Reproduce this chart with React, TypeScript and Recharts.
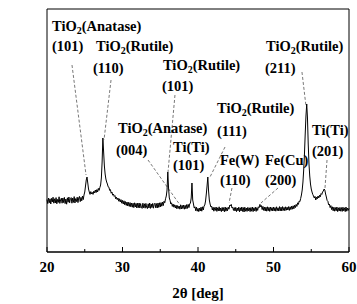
import {
  LineChart, Line, XAxis, YAxis, ReferenceLine, ReferenceDot, ReferenceArea, Label
} from 'recharts';

const FONT = '"Liberation Serif", "Times New Roman", serif';

// scan grid of the diffractometer (deg)
const scanStart = 20;
const scanStep = 0.1;

// intensity, one row per degree (x.0 ... x.9)
const counts = [
  2.62, 2.42, 2.70, 2.46, 2.66, 2.40, 2.68, 2.50, 2.74, 2.44, // 20
  2.66, 2.45, 2.72, 2.41, 2.63, 2.48, 2.76, 2.43, 2.60, 2.69, // 21
  2.44, 2.70, 2.47, 2.73, 2.42, 2.65, 2.39, 2.71, 2.49, 2.75, // 22
  2.46, 2.68, 2.72, 2.44, 2.70, 2.48, 2.77, 2.45, 2.67, 2.52, // 23
  2.74, 2.47, 2.70, 2.78, 2.52, 2.73, 2.56, 2.80, 2.62, 2.85, // 24
  3.00, 3.30, 3.60, 3.75, 3.45, 3.15, 3.00, 2.88, 3.02, 2.90, // 25
  2.98, 2.88, 3.04, 2.95, 3.10, 2.97, 3.12, 3.00, 3.18, 3.08, // 26
  3.22, 3.35, 3.70, 4.50, 5.70, 5.00, 4.30, 3.90, 3.65, 3.50, // 27
  3.40, 3.26, 3.24, 3.08, 3.12, 2.94, 3.00, 2.84, 2.90, 2.78, // 28
  2.82, 2.66, 2.74, 2.62, 2.70, 2.54, 2.66, 2.50, 2.62, 2.44, // 29
  2.58, 2.40, 2.56, 2.36, 2.52, 2.33, 2.50, 2.30, 2.48, 2.28, // 30
  2.47, 2.26, 2.45, 2.24, 2.44, 2.22, 2.46, 2.25, 2.43, 2.20, // 31
  2.44, 2.22, 2.45, 2.20, 2.42, 2.24, 2.18, 2.44, 2.21, 2.41, // 32
  2.19, 2.43, 2.23, 2.17, 2.41, 2.20, 2.45, 2.18, 2.40, 2.22, // 33
  2.43, 2.19, 2.38, 2.44, 2.21, 2.42, 2.20, 2.45, 2.23, 2.46, // 34
  2.25, 2.47, 2.29, 2.50, 2.32, 2.54, 2.46, 2.66, 2.80, 3.10, // 35
  4.00, 3.20, 2.70, 2.58, 2.40, 2.46, 2.28, 2.40, 2.24, 2.36, // 36
  2.20, 2.34, 2.16, 2.32, 2.18, 2.30, 2.14, 2.36, 2.15, 2.33, // 37
  2.17, 2.35, 2.14, 2.33, 2.16, 2.37, 2.18, 2.38, 2.22, 2.40, // 38
  2.45, 2.70, 3.45, 2.60, 2.40, 2.20, 2.26, 2.06, 2.24, 2.04, // 39
  2.18, 2.02, 2.20, 2.05, 2.24, 2.04, 2.26, 2.10, 2.30, 2.35, // 40
  2.55, 2.90, 3.30, 3.75, 3.05, 2.60, 2.40, 2.26, 2.30, 2.10, // 41
  2.24, 2.04, 2.22, 2.08, 2.25, 2.03, 2.21, 2.06, 2.26, 2.05, // 42
  2.20, 2.02, 2.23, 2.05, 2.22, 2.01, 2.25, 2.04, 2.21, 2.06, // 43
  2.24, 2.14, 2.34, 2.30, 2.38, 2.20, 2.24, 2.08, 2.22, 2.05, // 44
  2.23, 2.02, 2.20, 2.06, 2.24, 2.01, 2.21, 2.05, 2.25, 2.03, // 45
  2.22, 2.00, 2.24, 2.04, 2.20, 2.03, 2.23, 2.06, 2.21, 2.02, // 46
  2.22, 2.04, 2.25, 2.02, 2.21, 2.06, 2.24, 2.03, 2.22, 2.08, // 47
  2.26, 2.22, 2.38, 2.26, 2.32, 2.12, 2.28, 2.08, 2.24, 2.05, // 48
  2.24, 2.04, 2.26, 2.06, 2.23, 2.03, 2.25, 2.07, 2.22, 2.05, // 49
  2.25, 2.06, 2.22, 2.04, 2.26, 2.07, 2.21, 2.05, 2.27, 2.06, // 50
  2.24, 2.05, 2.27, 2.08, 2.23, 2.06, 2.26, 2.09, 2.24, 2.10, // 51
  2.27, 2.08, 2.26, 2.12, 2.29, 2.14, 2.31, 2.16, 2.34, 2.22, // 52
  2.38, 2.28, 2.46, 2.38, 2.55, 2.52, 2.68, 2.85, 3.10, 3.50, // 53
  4.10, 4.90, 5.90, 6.80, 7.40, 6.70, 5.40, 4.40, 3.80, 3.40, // 54
  3.15, 3.00, 2.88, 2.80, 2.70, 2.78, 2.60, 2.74, 2.66, 2.80, // 55
  2.70, 2.84, 2.76, 2.92, 2.88, 3.00, 3.05, 3.15, 3.10, 2.90, // 56
  2.75, 2.58, 2.54, 2.36, 2.40, 2.22, 2.32, 2.12, 2.26, 2.06, // 57
  2.24, 2.04, 2.22, 2.06, 2.25, 2.02, 2.21, 2.05, 2.23, 2.04, // 58
  2.22, 2.03, 2.24, 2.06, 2.21, 2.02, 2.25, 2.04, 2.20, 2.08, // 59
  2.18,                                                       // 60
];

const xTicks = [20, 25, 30, 35, 40, 45, 50, 55, 60];
const yTicks = [0, 1, 2, 3, 4, 5, 6, 7, 8, 9, 10, 11, 12];

// [2θ, intensity, text] – left edge / baseline of each annotation
const peakLabels: [number, number, string][] = [
  [20.66, 11.05, 'TiO2(Anatase)'],
  [20.66, 10.07, '(101)'],
  [26.49, 10.05, 'TiO2(Rutile)'],
  [26.09, 8.97, '(110)'],
  [35.36, 9.1, 'TiO2(Rutile)'],
  [35.23, 8.07, '(101)'],
  [29.4, 5.95, 'TiO2(Anatase)'],
  [29.14, 4.87, '(004)'],
  [36.69, 5.02, 'Ti(Ti)'],
  [36.69, 4.12, '(101)'],
  [42.52, 6.95, 'TiO2(Rutile)'],
  [42.52, 5.82, '(111)'],
  [42.91, 4.37, 'Fe(W)'],
  [42.91, 3.37, '(110)'],
  [48.87, 4.37, 'Fe(Cu)'],
  [48.87, 3.37, '(200)'],
  [49.01, 10.05, 'TiO2(Rutile)'],
  [48.87, 8.97, '(211)'],
  [55.1, 5.87, 'Ti(Ti)'],
  [55.1, 4.82, '(201)'],
];

// leader lines from annotation to peak: [x1, y1, x2, y2]
const leaders: [number, number, number, number][] = [
  [23.31, 9.35, 25.17, 3.85],
  [28.48, 8.6, 27.55, 5.6],
  [36.95, 7.85, 36.03, 4.0],
  [33.38, 4.6, 37.62, 2.35],
  [43.58, 5.25, 41.59, 3.75],
  [44.5, 3.2, 44.11, 2.45],
  [50.6, 3.2, 48.34, 2.45],
  [53.77, 9.0, 54.3, 7.3],
  [57.09, 4.6, 56.82, 3.2],
];

const chartData = counts.map((c, i) => ({
  angle: +(scanStart + i * scanStep).toFixed(1),
  counts: c,
}));

function LabelText({ cx, cy, text }: { cx: number; cy: number; text: string }) {
  const style = { fontFamily: FONT, fontWeight: 700, fontSize: 14.5, fill: '#000' };
  if (text.startsWith('TiO2')) {
    return (
      <text x={cx} y={cy} {...style}>
        TiO<tspan dy={3} fontSize={10}>2</tspan>
        <tspan dy={-3}>{text.slice(4)}</tspan>
      </text>
    );
  }
  return <text x={cx} y={cy} {...style}>{text}</text>;
}

const XTick = (props: any) => {
  const { x, y, payload } = props;
  const major = payload.value % 10 === 0;
  return (
    <g>
      <line x1={x} x2={x} y1={y} y2={y - (major ? 5 : 3)} stroke="#000" />
      {major && (
        <text x={x} y={y + 20} textAnchor="middle" fontFamily={FONT} fontWeight={700} fontSize={15} fill="#000">
          {payload.value}
        </text>
      )}
    </g>
  );
};

const YTick = (props: any) => {
  const { x, y } = props;
  return <line x1={x} x2={x + 3} y1={y} y2={y} stroke="#000" />;
};

export default function App() {
  return (
    <div style={{ position: 'absolute', left: 0, top: 0 }}>
      <LineChart
        width={357}
        height={304}
        data={chartData}
        margin={{ top: 9, right: 8, left: 47, bottom: 0 }}
      >
        <XAxis
          dataKey="angle"
          type="number"
          domain={[20, 60]}
          ticks={xTicks}
          interval={0}
          height={52}
          tickSize={0}
          tickMargin={0}
          tick={<XTick />}
          axisLine={{ stroke: '#000' }}
        >
          <Label
            value="2θ [deg]"
            position="insideBottom"
            offset={6}
            style={{ fontFamily: FONT, fontWeight: 700, fontSize: 15, fill: '#000' }}
          />
        </XAxis>
        <YAxis
          type="number"
          domain={[0, 12.15]}
          ticks={yTicks}
          interval={0}
          width={0}
          tickSize={0}
          tickMargin={0}
          tick={<YTick />}
          axisLine={{ stroke: '#000' }}
          allowDataOverflow
        >
          <Label
            content={(p: any) => {
              const vb = p.viewBox;
              const tx = vb.x - 20;
              const ty = vb.y + vb.height / 2 - 5;
              return (
                <text
                  x={tx}
                  y={ty}
                  transform={`rotate(-90 ${tx} ${ty})`}
                  textAnchor="middle"
                  fontFamily={FONT}
                  fontWeight={700}
                  fontSize={15}
                  fill="#000"
                >
                  Intensity [a.u.]
                </text>
              );
            }}
          />
        </YAxis>
        <ReferenceArea x1={20} x2={60} y1={0} y2={12.15} fill="none" stroke="#000" strokeWidth={1} />
        {leaders.map(([x1, y1, x2, y2], i) => (
          <ReferenceLine
            key={'l' + i}
            segment={[{ x: x1, y: y1 }, { x: x2, y: y2 }]}
            stroke="#555"
            strokeWidth={0.8}
            strokeDasharray="3 2"
          />
        ))}
        <Line
          type="linear"
          dataKey="counts"
          stroke="#000"
          strokeWidth={1}
          dot={false}
          isAnimationActive={false}
        />
        {peakLabels.map(([x, y, text], i) => (
          <ReferenceDot
            key={'t' + i}
            x={x}
            y={y}
            r={0}
            shape={(p: any) => <LabelText cx={p.cx} cy={p.cy} text={text} />}
          />
        ))}
      </LineChart>
    </div>
  );
}
